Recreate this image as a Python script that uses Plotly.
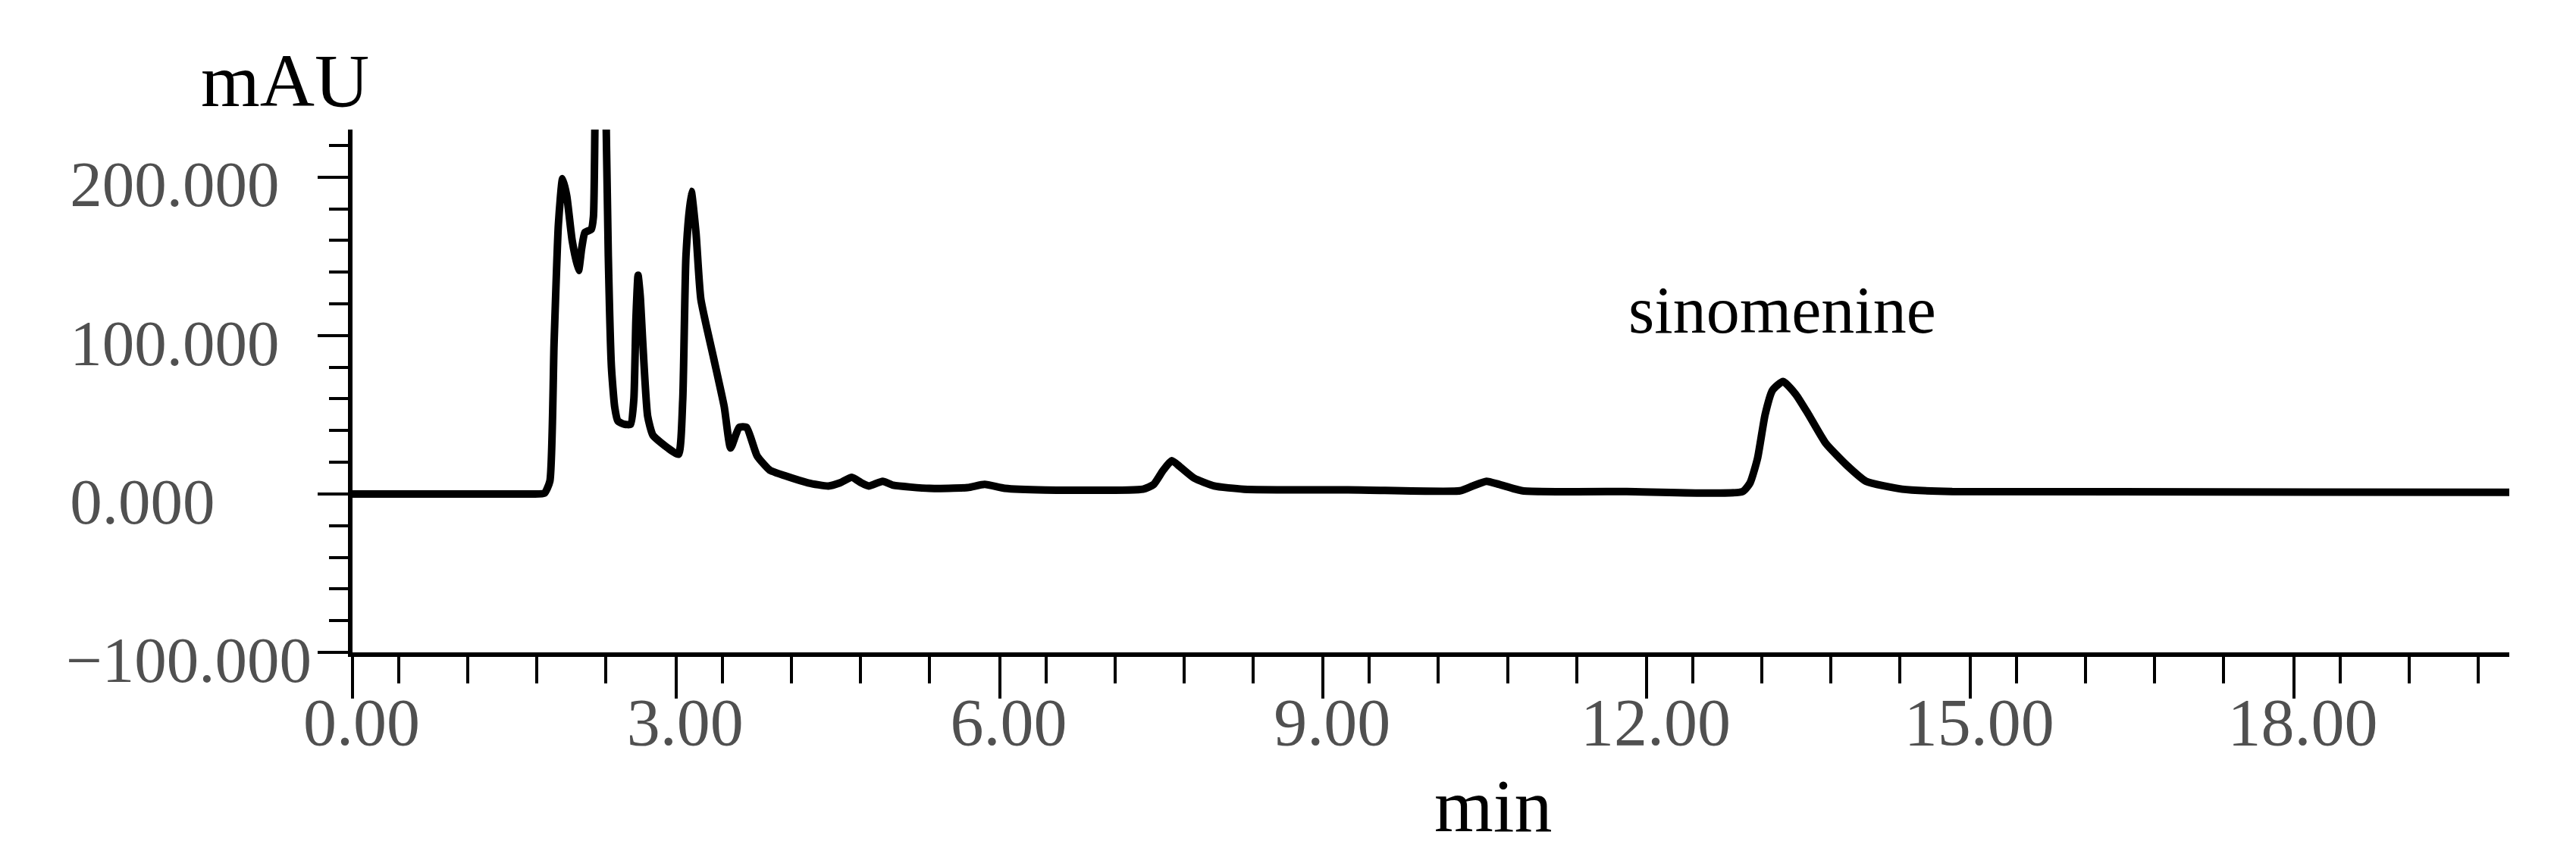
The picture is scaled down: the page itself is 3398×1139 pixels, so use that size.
import plotly.graph_objects as go

# Retention time (min) and absorbance (mAU)
time_min = [0.000, 1.662, 1.780, 1.830, 1.869, 1.909, 1.948, 1.987, 2.037, 2.096, 2.125,
            2.155, 2.214, 2.234, 2.254, 2.293, 2.342, 2.372, 2.401, 2.431, 2.461, 2.520,
            2.579, 2.609, 2.628, 2.648, 2.668, 2.692, 2.737, 2.786, 2.924, 3.023, 3.062,
            3.092, 3.141, 3.185, 3.230, 3.348, 3.447, 3.506, 3.585, 3.654, 3.752, 3.870,
            4.008, 4.225, 4.413, 4.521, 4.630, 4.718, 4.787, 4.916, 5.014, 5.349, 5.704,
            5.862, 6.049, 6.424, 7.331, 7.429, 7.518, 7.597, 7.676, 7.804, 7.991, 8.267,
            9.352, 10.269, 10.387, 10.515, 10.634, 10.850, 11.817, 12.891, 12.960, 13.029,
            13.099, 13.168, 13.266, 13.385, 13.503, 13.661, 13.858, 14.035, 14.370, 14.834,
            20.000]
absorbance_mau = [0, 0, 0.5, 8, 95, 170, 199, 188, 160, 141, 155,
                  165, 167, 175, 280, 520, 280, 150, 80, 55, 46, 44,
                  44, 60, 110, 138, 125, 95, 49, 37, 29, 25, 59,
                  150, 191, 165, 123, 86, 55, 29, 42, 42, 24, 15,
                  11.5, 7, 5, 7, 10.5, 7, 5, 8, 5.5, 3.5, 4,
                  6, 3.5, 2.5, 3, 6, 15, 21, 17, 10, 5, 3,
                  2.5, 2, 5, 8, 6, 2, 1.5, 1.5, 7, 22.5,
                  50, 65.5, 71, 62.7, 50, 32, 18, 8, 3, 1.5,
                  1]

x_major_ticks = [0, 3, 6, 9, 12, 15, 18]
x_tick_labels = ["0.00", "3.00", "6.00", "9.00", "12.00", "15.00", "18.00"]
x_minor_ticks = [0.43, 1.07, 1.71, 2.35, 3.43, 4.07, 4.71, 5.35, 6.43, 7.07, 7.71, 8.35,
                 9.43, 10.07, 10.71, 11.35, 12.43, 13.07, 13.71, 14.35, 15.43, 16.07,
                 16.71, 17.35, 18.43, 19.07, 19.71]
y_major_ticks = [-100, 0, 100, 200]
y_tick_labels = ["\u2212100.000", "0.000", "100.000", "200.000"]
y_minor_ticks = [-80, -60, -40, -20, 20, 40, 60, 80, 120, 140, 160, 180, 220]

peak_label = "sinomenine"
peak_label_x = 13.26
peak_label_y = 116

SERIF = "Liberation Serif, Times New Roman, serif"
XTICKFONT = dict(family=SERIF, size=88, color="#505050")
YTICKFONT = dict(family=SERIF, size=85, color="#505050")

# labels in the reference are left-aligned: pad shorter ones with figure spaces
_longest = max(len(t) for t in y_tick_labels)
y_tick_text = [t + "\u2007" * (_longest - len(t)) for t in y_tick_labels]

fig = go.Figure()
fig.add_trace(go.Scatter(
    x=time_min, y=absorbance_mau, mode="lines",
    line=dict(color="black", width=10, shape="spline", smoothing=0.5),
    showlegend=False, hoverinfo="skip",
))

fig.add_annotation(x=peak_label_x, y=peak_label_y, xref="x", yref="y",
                   text=peak_label, showarrow=False,
                   font=dict(family=SERIF, size=88, color="black"),
                   xanchor="center", yanchor="middle")
fig.add_annotation(x=-0.0313, y=1.094, xref="paper", yref="paper",
                   text="mAU", showarrow=False,
                   font=dict(family=SERIF, size=100, color="black"),
                   xanchor="center", yanchor="middle")
fig.add_annotation(x=0.529, y=-0.294, xref="paper", yref="paper",
                   text="min", showarrow=False,
                   font=dict(family=SERIF, size=100, color="black"),
                   xanchor="center", yanchor="middle")

fig.update_layout(
    width=3398, height=1139,
    margin=dict(l=457, r=96, t=163, b=286),
    paper_bgcolor="white", plot_bgcolor="white",
    xaxis=dict(
        range=[0, 20.0], showgrid=False, zeroline=False,
        showline=True, linecolor="black", linewidth=6,
        tickmode="array", tickvals=x_major_ticks, ticktext=x_tick_labels,
        ticks="outside", ticklen=55, tickwidth=4, tickcolor="black",
        tickfont=XTICKFONT, ticklabelshift=12, ticklabelstandoff=-45,
        minor=dict(tickmode="array", tickvals=x_minor_ticks, ticks="outside",
                   ticklen=35, tickwidth=4, tickcolor="black", showgrid=False),
    ),
    yaxis=dict(
        range=[-100, 230], showgrid=False, zeroline=False,
        showline=True, linecolor="black", linewidth=6,
        tickmode="array", tickvals=y_major_ticks, ticktext=y_tick_text,
        ticks="outside", ticklen=40, tickwidth=4, tickcolor="black",
        tickfont=YTICKFONT, ticklabelshift=9, ticklabelstandoff=-9,
        minor=dict(tickmode="array", tickvals=y_minor_ticks, ticks="outside",
                   ticklen=25, tickwidth=4, tickcolor="black", showgrid=False),
    ),
)

fig.write_html("out.html")
